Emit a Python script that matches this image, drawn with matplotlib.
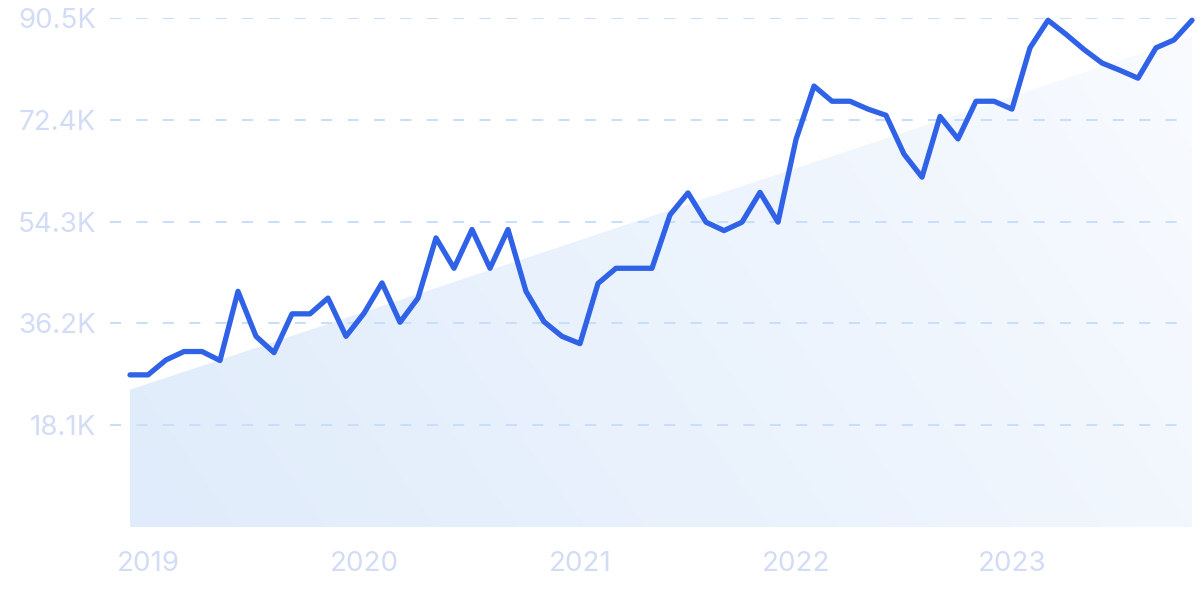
import numpy as np
import matplotlib
matplotlib.use("Agg")
import matplotlib.pyplot as plt
from matplotlib.colors import LinearSegmentedColormap

# monthly values, in thousands (Dec 2018 .. Nov 2023)
values = [27.05, 27.05, 29.7, 31.2, 31.2, 29.6, 41.9, 33.9, 31.0, 37.9,
          37.9, 40.7, 33.9, 38.0, 43.4, 36.4, 40.7, 51.4, 46.0, 52.9,
          46.0, 52.9, 41.9, 36.5, 33.9, 32.6, 43.3, 46.0, 46.0, 46.0,
          55.5, 59.4, 54.2, 52.7, 54.2, 59.5, 54.2, 68.9, 78.4, 75.7,
          75.7, 74.3, 73.2, 66.3, 62.2, 73.0, 69.0, 75.7, 75.7, 74.3,
          85.2, 90.1, 87.6, 84.9, 82.5, 81.2, 79.8, 85.2, 86.6, 90.1]
# trend line end points (thousands)
trend_ends = [24.4, 87.2]

year_labels = ["2019", "2020", "2021", "2022", "2023"]
year_idx = [1, 13, 25, 37, 49]
y_ticks = [18.1, 36.2, 54.3, 72.4, 90.5]
y_labels = ["18.1K", "36.2K", "54.3K", "72.4K", "90.5K"]

line_color = "#2f62e6"
label_color = "#d3dcf6"
grid_color = "#c8defa"

plt.rcParams['font.family'] = ['Inter', 'DejaVu Sans']
plt.rcParams['lines.scale_dashes'] = False

fig = plt.figure(figsize=(12, 5.99), dpi=100)
ax = fig.add_axes([110 / 1200, 72 / 599, 1082 / 1200, 509 / 599])

n = len(values)
x = np.arange(n)

# gradient filled trend area
tx = [0, n - 1]
poly = ax.fill_between(tx, [0, 0], trend_ends, color="none", lw=0)
cmap = LinearSegmentedColormap.from_list("g", ["#e0ecfb", "#ebf3fd", "#f9fbff"])
gx, gy = np.meshgrid(np.linspace(0, 1, 300), np.linspace(0, 1, 150))
grad = gx * 0.75 + (1 - gy) * 0.25
img = ax.imshow(grad, cmap=cmap, extent=[0, n - 1, 0, 90.5], origin="upper",
                aspect="auto", zorder=1, vmin=0, vmax=1)
img.set_clip_path(poly.get_paths()[0], transform=ax.transData)
ax.set_xlim(-20 / 18, n - 1)
ax.set_ylim(0, 90.5)

# dashed grid
for yt in y_ticks:
    ax.axhline(yt, color=grid_color, lw=1.4, linestyle=(0, (8, 11)), zorder=2)

ax.plot(x, values, color=line_color, lw=3.8, solid_joinstyle="round",
        solid_capstyle="round", zorder=3, clip_on=False)

ax.set_yticks(y_ticks)
ax.set_yticklabels(y_labels)
ax.set_xticks(year_idx)
ax.set_xticklabels(year_labels)
ax.tick_params(axis="y", length=0, pad=10, labelsize=20, labelcolor=label_color)
ax.tick_params(axis="x", length=0, pad=17, labelsize=20, labelcolor=label_color)
for s in ax.spines.values():
    s.set_visible(False)

fig.savefig("out.png", dpi=100)
